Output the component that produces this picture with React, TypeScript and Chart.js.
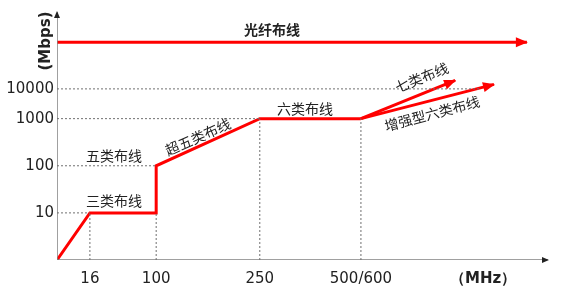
import React, { useEffect, useRef } from 'react';
import { Chart, registerables } from 'chart.js';

Chart.register(...registerables);

// Schematic axis positions (not to scale in the original diagram)
const xTickLabels = ['16', '100', '250', '500/600', '（MHz）'];
const xTickPos = [6.7, 20.2, 41.3, 61.9, 86.8];
const yTickLabels = ['10', '100', '1000', '10000'];
const yTickPos = [19, 38, 57, 69];

// Cabling categories
const mainX = [0, 6.7, 20.2, 20.2, 41.3, 61.9];
const mainY = [0, 19, 19, 38, 57, 57];
const cat7X = [61.9, 81.1];
const cat7Y = [57, 72.4];
const cat6aX = [61.9, 89.0];
const cat6aY = [57, 70.8];
const fiberX = [0, 95.7];
const fiberY = [87.8, 87.8];

// Guide lines (dotted)
const guideH = [
  { y: 19, x0: 0, x1: 6.7 },
  { y: 38, x0: 0, x1: 20.2 },
  { y: 57, x0: 0, x1: 41.3 },
  { y: 69, x0: 0, x1: 86.0 },
];
const guideV = [
  { x: 6.7, y0: 0, y1: 19 },
  { x: 20.2, y0: 0, y1: 19 },
  { x: 41.3, y0: 0, y1: 57 },
  { x: 61.9, y0: 0, y1: 57 },
];

const labels = [
  { text: '光纤布线', x: 43.8, y: 92.8, angle: 0, bold: true },
  { text: '三类布线', x: 11.6, y: 24, angle: 0, bold: false },
  { text: '五类布线', x: 11.6, y: 42, angle: 0, bold: false },
  { text: '超五类布线', x: 28.7, y: 49.6, angle: -24, bold: false },
  { text: '六类布线', x: 50.5, y: 61.2, angle: 0, bold: false },
  { text: '七类布线', x: 74.3, y: 73.6, angle: -22, bold: false },
  { text: '增强型六类布线', x: 76.4, y: 59.0, angle: -15, bold: false },
];

const zip = (xs: number[], ys: number[]) => xs.map((x, i) => ({ x, y: ys[i] }));

const RED = '#ff0000';
const GRID = '#707070';

const arrowPlugin = {
  id: 'arrowsAndLabels',
  afterDatasetsDraw(chart: any) {
    const ctx = chart.ctx;
    chart.data.datasets.forEach((ds: any, i: number) => {
      if (!ds.arrow) return;
      const pts = chart.getDatasetMeta(i).data;
      const n = pts.length;
      const a = pts[n - 2];
      const b = pts[n - 1];
      const ang = Math.atan2(b.y - a.y, b.x - a.x);
      const L = ds.arrow === 'big' ? 11 : 6;
      const W = ds.arrow === 'big' ? 5 : 3;
      ctx.save();
      ctx.translate(b.x, b.y);
      ctx.rotate(ang);
      ctx.beginPath();
      ctx.moveTo(1, 0);
      ctx.lineTo(-L, -W);
      ctx.lineTo(-L, W);
      ctx.closePath();
      ctx.fillStyle = ds.arrowColor;
      ctx.fill();
      ctx.restore();
    });
    const xs = chart.scales.x;
    const ys = chart.scales.y;
    labels.forEach((l) => {
      const px = xs.getPixelForValue(l.x);
      const py = ys.getPixelForValue(l.y);
      ctx.save();
      ctx.translate(px, py);
      ctx.rotate((l.angle * Math.PI) / 180);
      ctx.font = `${l.bold ? 'bold ' : ''}14px "Noto Sans CJK SC"`;
      ctx.fillStyle = '#222';
      ctx.textAlign = 'center';
      ctx.textBaseline = 'middle';
      ctx.fillText(l.text, 0, 0);
      ctx.restore();
    });
    // y axis unit label
    ctx.save();
    ctx.translate(46, 41);
    ctx.rotate(-Math.PI / 2);
    ctx.font = 'bold 15px "DejaVu Sans"';
    ctx.fillStyle = '#222';
    ctx.textAlign = 'center';
    ctx.textBaseline = 'middle';
    ctx.fillText('(Mbps)', 0, 0);
    ctx.restore();
  },
};

export default function App() {
  const ref = useRef<HTMLCanvasElement | null>(null);
  useEffect(() => {
    if (!ref.current) return;
    const line = (data: any[], extra: any) => ({
      data,
      showLine: true,
      pointRadius: 0,
      tension: 0,
      fill: false,
      ...extra,
    });
    const datasets: any[] = [];
    guideH.forEach((g) =>
      datasets.push(line([{ x: g.x0, y: g.y }, { x: g.x1, y: g.y }], { borderColor: GRID, borderWidth: 1, borderDash: [2, 2] }))
    );
    guideV.forEach((g) =>
      datasets.push(line([{ x: g.x, y: g.y0 }, { x: g.x, y: g.y1 }], { borderColor: GRID, borderWidth: 1, borderDash: [2, 2] }))
    );
    // axes
    datasets.push(line([{ x: 0, y: 0 }, { x: 100, y: 0 }], { borderColor: '#808080', borderWidth: 1.5, arrow: 'small', arrowColor: '#222' }));
    datasets.push(line([{ x: 0, y: 0 }, { x: 0, y: 100 }], { borderColor: '#808080', borderWidth: 1.5, arrow: 'small', arrowColor: '#222' }));
    // series
    datasets.push(line(zip(mainX, mainY), { label: '铜缆', borderColor: RED, borderWidth: 3 }));
    datasets.push(line(zip(cat7X, cat7Y), { label: '七类布线', borderColor: RED, borderWidth: 3, arrow: 'big', arrowColor: RED }));
    datasets.push(line(zip(cat6aX, cat6aY), { label: '增强型六类布线', borderColor: RED, borderWidth: 3, arrow: 'big', arrowColor: RED }));
    datasets.push(line(zip(fiberX, fiberY), { label: '光纤布线', borderColor: RED, borderWidth: 3, arrow: 'big', arrowColor: RED }));

    const chart = new Chart(ref.current, {
      type: 'line',
      data: { datasets },
      options: {
        animation: false,
        responsive: false,
        layout: { padding: { left: 0, right: 21, top: 10, bottom: 0 } },
        plugins: { legend: { display: false }, tooltip: { enabled: false } },
        scales: {
          x: {
            type: 'linear',
            min: 0,
            max: 100,
            grid: { display: false, drawTicks: false },
            border: { display: false },
            afterBuildTicks: (s: any) => {
              s.ticks = xTickPos.map((v) => ({ value: v }));
            },
            afterFit: (s: any) => {
              s.height = 42;
            },
            ticks: {
              autoSkip: false,
              maxRotation: 0,
              padding: 10,
              color: '#222',
              font: (c: any) => ({ family: 'DejaVu Sans', size: 15, weight: c.index === 4 ? 'bold' : 'normal' }),
              callback: (_v: any, i: number) => xTickLabels[i],
            },
          },
          y: {
            type: 'linear',
            min: 0,
            max: 100,
            grid: { display: false, drawTicks: false },
            border: { display: false },
            afterBuildTicks: (s: any) => {
              s.ticks = yTickPos.map((v) => ({ value: v }));
            },
            afterFit: (s: any) => {
              s.width = 57;
            },
            ticks: {
              autoSkip: false,
              padding: 3,
              color: '#222',
              font: { family: 'DejaVu Sans', size: 15 },
              callback: (_v: any, i: number) => yTickLabels[i],
            },
          },
        },
      },
      plugins: [arrowPlugin],
    });
    return () => chart.destroy();
  }, []);
  return (
    <div style={{ position: 'fixed', left: 0, top: 0, width: 569, height: 302, background: '#fff' }}>
      <canvas ref={ref} width={569} height={302} />
    </div>
  );
}
